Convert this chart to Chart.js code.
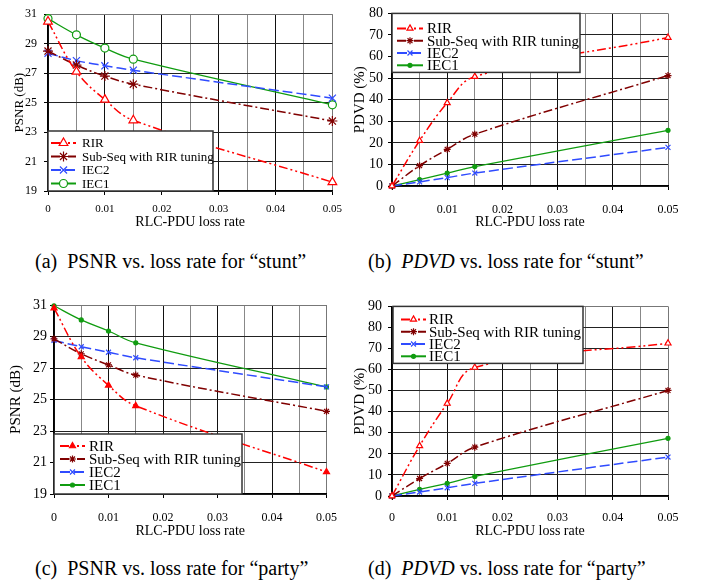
<!DOCTYPE html>
<html>
<head>
<meta charset="utf-8">
<script src="https://cdn.jsdelivr.net/npm/chart.js@4.4.1/dist/chart.umd.min.js"></script>
<style>
  body { margin: 0; background: #fff; width: 705px; height: 586px; position: relative; overflow: hidden;
         font-family: "Liberation Serif", "Times New Roman", serif; color: #000; }
  canvas { position: absolute; }
  .cap { position: absolute; font-size: 20px; white-space: pre; line-height: 24px; }
</style>
</head>
<body>
<canvas id="chartA" width="350" height="240" style="left:0;top:0"></canvas>
<canvas id="chartB" width="355" height="240" style="left:350px;top:0"></canvas>
<canvas id="chartC" width="350" height="250" style="left:0;top:292px"></canvas>
<canvas id="chartD" width="355" height="250" style="left:350px;top:292px"></canvas>
<div class="cap" style="left:35px;top:249px">(a)  PSNR vs. loss rate for “stunt”</div>
<div class="cap" style="left:368px;top:249px">(b)  <i>PDVD</i> vs. loss rate for “stunt”</div>
<div class="cap" style="left:35px;top:556px">(c)  PSNR vs. loss rate for “party”</div>
<div class="cap" style="left:368px;top:556px">(d)  <i>PDVD</i> vs. loss rate for “party”</div>
<script>
// x values shared by every panel
const lossRate = [0, 0.005, 0.01, 0.015, 0.05];
const seriesLabels = ['RIR', 'Sub-Seq with RIR tuning', 'IEC2', 'IEC1'];

// (a) PSNR, "stunt"
const stuntPsnrRir    = [30.5, 27.1, 25.2, 23.8, 19.6];
const stuntPsnrSubSeq = [28.5, 27.55, 26.8, 26.25, 23.75];
const stuntPsnrIec2   = [28.35, 27.85, 27.5, 27.2, 25.3];
const stuntPsnrIec1   = [30.7, 29.6, 28.7, 27.95, 24.85];

// (b) PDVD, "stunt"
const stuntPdvdRir    = [0, 21, 38.5, 50.7, 68.8];
const stuntPdvdSubSeq = [0, 9.4, 17, 24, 51.2];
const stuntPdvdIec2   = [0, 1.9, 3.9, 6, 17.9];
const stuntPdvdIec1   = [0, 3, 6, 9, 25.8];

// (c) PSNR, "party"
const partyPsnrRir    = [30.8, 27.7, 25.9, 24.6, 20.4];
const partyPsnrSubSeq = [28.85, 27.9, 27.2, 26.55, 24.25];
const partyPsnrIec2   = [28.75, 28.35, 28.0, 27.65, 25.8];
const partyPsnrIec1   = [30.95, 30.05, 29.35, 28.6, 25.8];

// (d) PDVD, "party"
const partyPdvdRir    = [0, 23.8, 43.9, 61, 72.5];
const partyPdvdSubSeq = [0, 8.3, 15.5, 23.2, 50.1];
const partyPdvdIec2   = [0, 1.9, 3.9, 6, 18.5];
const partyPdvdIec1   = [0, 3.1, 6, 9.3, 27.4];

const serif = 'Liberation Serif';

const seriesStyle = [
  { color: '#ff0000', dash: [9, 3, 2, 3, 2, 3], width: 1.5, point: 'triangle' },
  { color: '#800000', dash: [9, 3, 2, 3], width: 1.5, point: 'star' },
  { color: '#2f4bff', dash: [10, 4], width: 1.5, point: 'crossRot' },
  { color: '#109c10', dash: [], width: 1.3, point: 'circle' }
];

// legend box drawn inside the plot area
const boxLegend = {
  id: 'boxLegend',
  afterDatasetsDraw(chart, args, opts) {
    const { ctx, chartArea: a } = chart;
    const h = opts.height;
    const x0 = a.left + (opts.dx || 0);
    const y0 = opts.anchor === 'bottom' ? a.bottom - h : a.top;
    ctx.save();
    ctx.fillStyle = '#fff';
    ctx.fillRect(x0, y0, opts.width, h);
    ctx.strokeStyle = '#333';
    ctx.lineWidth = 1.5;
    ctx.setLineDash([]);
    ctx.strokeRect(x0, y0, opts.width, h);
    ctx.font = opts.fontSize + 'px "' + serif + '"';
    ctx.textBaseline = 'middle';
    chart.data.datasets.forEach((ds, i) => {
      const y = y0 + opts.firstRow + i * opts.rowGap;
      ctx.strokeStyle = ds.borderColor;
      ctx.lineWidth = 2;
      ctx.setLineDash(ds.borderDash);
      ctx.beginPath();
      ctx.moveTo(x0 + opts.lineStart, y);
      ctx.lineTo(x0 + opts.lineEnd, y);
      ctx.stroke();
      ctx.setLineDash([]);
      ctx.fillStyle = ds.pointBackgroundColor;
      ctx.strokeStyle = ds.pointBorderColor;
      ctx.lineWidth = 1.2;
      Chart.helpers.drawPoint(ctx, { pointStyle: ds.pointStyle, radius: ds.pointRadius, rotation: 0, borderWidth: 1.2 },
        x0 + (opts.lineStart + opts.lineEnd) / 2, y);
      ctx.fillStyle = '#000';
      ctx.fillText(ds.label, x0 + opts.textX, y + 1);
    });
    ctx.restore();
  }
};

function xLabel(v) {
  const k = Math.round(v * 1000);
  if (k % 10) return '';
  return k === 0 ? '0' : String(k / 1000);
}

function makeChart(id, cfg) {
  const datasets = cfg.series.map((vals, i) => {
    const s = seriesStyle[i];
    return {
      label: seriesLabels[i],
      data: lossRate.map((x, j) => ({ x: x, y: vals[j] })),
      borderColor: s.color,
      borderDash: s.dash,
      borderWidth: s.width,
      pointStyle: s.point,
      pointRadius: cfg.markerR[i],
      pointBorderColor: s.color,
      pointBackgroundColor: cfg.filled[i] ? s.color : '#fff',
      pointBorderWidth: 1.2,
      tension: 0.4,
      fill: false,
      clip: 6
    };
  });

  return new Chart(document.getElementById(id), {
    type: 'line',
    data: { datasets: datasets },
    plugins: [boxLegend],
    options: {
      responsive: false,
      animation: false,
      events: [],
      layout: { padding: cfg.padding },
      plugins: {
        legend: { display: false },
        tooltip: { enabled: false },
        boxLegend: cfg.legend
      },
      scales: {
        x: {
          type: 'linear',
          min: 0,
          max: 0.05,
          afterFit: (scale) => { scale.height = cfg.xHeight; },
          ticks: {
            stepSize: 0.005,
            autoSkip: false,
            maxRotation: 0,
            padding: cfg.xTickPad,
            color: '#000',
            font: { family: serif, size: cfg.xTickFont },
            callback: xLabel
          },
          grid: {
            tickLength: 4,
            lineWidth: 1,
            color: (c) => {
              const k = Math.round(c.tick.value * 1000);
              if (k === 50) return '#777';
              return k % 10 ? '#888' : '#111';
            },
            tickColor: (c) => Math.round(c.tick.value * 1000) % 10 ? 'rgba(0,0,0,0)' : '#000'
          },
          border: { color: '#000', width: 1.2 },
          title: {
            display: true,
            text: 'RLC-PDU loss rate',
            color: '#000',
            font: { family: serif, size: 14 },
            padding: { top: 0, bottom: cfg.xTitlePad }
          }
        },
        y: {
          min: cfg.yMin,
          max: cfg.yMax,
          afterFit: (scale) => { scale.width = cfg.yWidth; },
          ticks: {
            stepSize: cfg.yStep,
            padding: cfg.yTickPad,
            color: '#000',
            font: { family: serif, size: cfg.yTickFont }
          },
          grid: {
            tickLength: 4,
            lineWidth: 1,
            color: (c) => c.tick.value === cfg.yMax ? '#777' : '#222',
            tickColor: '#000'
          },
          border: { color: '#000', width: 1.2 },
          title: {
            display: true,
            text: cfg.yTitle,
            color: '#000',
            font: { family: serif, size: cfg.yTitleFont },
            padding: { top: cfg.yTitlePad, bottom: 0 }
          }
        }
      }
    }
  });
}

makeChart('chartA', {
  series: [stuntPsnrRir, stuntPsnrSubSeq, stuntPsnrIec2, stuntPsnrIec1],
  yMin: 19, yMax: 31, yStep: 2, yTitle: 'PSNR (dB)',
  padding: { top: 7, right: 17, bottom: 0, left: 0 },
  yWidth: 48, xHeight: 49,
  xTickPad: 8, xTickFont: 11, xTitlePad: 9,
  yTickPad: 7, yTickFont: 12, yTitleFont: 13, yTitlePad: 12,
  markerR: [5, 5, 5, 4], filled: [false, false, false, false],
  legend: { anchor: 'bottom', width: 165, height: 60, firstRow: 12, rowGap: 13.5,
            lineStart: 3, lineEnd: 28, textX: 34, fontSize: 13 }
});

makeChart('chartB', {
  series: [stuntPdvdRir, stuntPdvdSubSeq, stuntPdvdIec2, stuntPdvdIec1],
  yMin: 0, yMax: 80, yStep: 10, yTitle: 'PDVD (%)',
  padding: { top: 7, right: 37, bottom: 0, left: 0 },
  yWidth: 42, xHeight: 54,
  xTickPad: 13, xTickFont: 12, xTitlePad: 9,
  yTickPad: 5, yTickFont: 14, yTitleFont: 15, yTitlePad: 1,
  markerR: [3.5, 3.5, 3.5, 2], filled: [false, true, false, true],
  legend: { anchor: 'top', width: 188, height: 59, firstRow: 15, rowGap: 12.3,
            lineStart: 5, lineEnd: 31, textX: 35, fontSize: 15 }
});

makeChart('chartC', {
  series: [partyPsnrRir, partyPsnrSubSeq, partyPsnrIec2, partyPsnrIec1],
  yMin: 19, yMax: 31, yStep: 2, yTitle: 'PSNR (dB)',
  padding: { top: 13, right: 18, bottom: 0, left: 0 },
  yWidth: 54, xHeight: 48,
  xTickPad: 13, xTickFont: 12, xTitlePad: 2,
  yTickPad: 3, yTickFont: 14, yTitleFont: 15, yTitlePad: 7,
  markerR: [3.5, 3.5, 3.5, 2], filled: [true, true, false, true],
  legend: { anchor: 'bottom', width: 188, height: 60, firstRow: 12, rowGap: 13,
            lineStart: 6, lineEnd: 31, textX: 35, fontSize: 15 }
});

makeChart('chartD', {
  series: [partyPdvdRir, partyPdvdSubSeq, partyPdvdIec2, partyPdvdIec1],
  yMin: 0, yMax: 90, yStep: 10, yTitle: 'PDVD (%)',
  padding: { top: 10, right: 37, bottom: 0, left: 0 },
  yWidth: 42, xHeight: 46,
  xTickPad: 11, xTickFont: 12, xTitlePad: 2,
  yTickPad: 6, yTickFont: 14, yTitleFont: 15, yTitlePad: 1,
  markerR: [3.5, 3.5, 3.5, 2], filled: [false, true, false, true],
  legend: { anchor: 'top', dx: 1, width: 190, height: 57, firstRow: 13, rowGap: 12.3,
            lineStart: 8, lineEnd: 33, textX: 36, fontSize: 15 }
});
</script>
</body>
</html>
